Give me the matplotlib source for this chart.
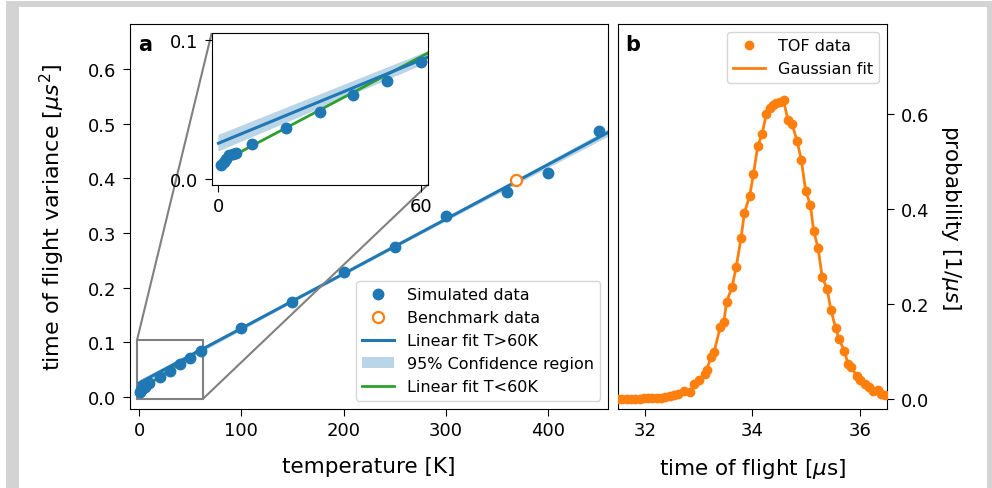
import numpy as np
import matplotlib
matplotlib.use("Agg")
import matplotlib.pyplot as plt
from matplotlib.patches import Rectangle
from mpl_toolkits.axes_grid1.inset_locator import mark_inset

# ---------------- data: panel a ----------------
sim_T = [0.7, 1.5, 2.3, 3.2, 4.2, 5.2, 10, 20, 30, 40, 50, 60,
         100, 150, 200, 250, 300, 360, 400, 450]
sim_v = [0.0100, 0.0124, 0.0148, 0.0171, 0.0183, 0.0185, 0.0250, 0.0367,
         0.0481, 0.0605, 0.0707, 0.0843,
         0.1267, 0.1730, 0.2290, 0.2750, 0.3310, 0.3750, 0.4090, 0.4860]
sim_err = [0.001, 0.001, 0.001, 0.001, 0.001, 0.001, 0.001, 0.001,
           0.001, 0.001, 0.001, 0.001,
           0.002, 0.002, 0.002, 0.002, 0.002, 0.003, 0.005, 0.009]
bench_T = [369]
bench_v = [0.397]

# linear fit T>60K (slope, intercept)
fit_hi_slope = 0.000998
fit_hi_icpt = 0.0258
fit_hi_T = [0, 462]
# 95% confidence half-width along the fit
conf_T = [0, 60, 150, 250, 350, 462]
conf_hw = [0.0060, 0.0042, 0.0025, 0.0025, 0.0042, 0.0070]
# linear fit T<60K
fit_lo_slope = 0.00128
fit_lo_icpt = 0.0112
fit_lo_T = [0, 62]

# ---------------- data: panel b ----------------
tof_t = [31.50, 31.58, 31.66, 31.74, 31.82, 31.90, 31.98, 32.06, 32.14, 32.22,
         32.30, 32.38, 32.46, 32.54, 32.62, 32.73, 32.83, 32.92, 33.01, 33.11,
         33.15, 33.23, 33.29, 33.40, 33.47, 33.52, 33.62, 33.70, 33.79, 33.85,
         33.95, 34.02, 34.10, 34.18, 34.26, 34.33, 34.38, 34.44, 34.51, 34.58,
         34.66, 34.74, 34.83, 34.91, 34.99, 35.08, 35.14, 35.22, 35.30, 35.39,
         35.46, 35.55, 35.61, 35.71, 35.78, 35.84, 35.94, 36.00, 36.09, 36.17,
         36.25, 36.34, 36.40, 36.46]
tof_p = [0.001, 0.001, 0.001, 0.001, 0.001, 0.001, 0.002, 0.002, 0.002, 0.003,
         0.003, 0.004, 0.006, 0.008, 0.010, 0.016, 0.014, 0.032, 0.039, 0.053,
         0.062, 0.088, 0.100, 0.151, 0.163, 0.205, 0.235, 0.279, 0.340, 0.392,
         0.428, 0.474, 0.533, 0.558, 0.601, 0.612, 0.619, 0.623, 0.626, 0.629,
         0.588, 0.579, 0.544, 0.504, 0.439, 0.408, 0.354, 0.319, 0.256, 0.232,
         0.188, 0.149, 0.126, 0.102, 0.074, 0.067, 0.049, 0.039, 0.032, 0.025,
         0.017, 0.020, 0.011, 0.009]

BLUE = "#1f77b4"
ORANGE = "#ff7f0e"
GREEN = "#2ca02c"

plt.rcParams["font.family"] = "DejaVu Sans"
plt.rcParams["xtick.major.size"] = 5
plt.rcParams["ytick.major.size"] = 5
plt.rcParams["xtick.major.pad"] = 4
plt.rcParams["ytick.major.pad"] = 5
W, H = 992, 489
fig = plt.figure(figsize=(W / 100, H / 100), dpi=100)

# grey frame
def px_rect(x0, y0, x1, y1):
    fig.patches.append(Rectangle((x0 / W, 1 - y1 / H), (x1 - x0) / W, (y1 - y0) / H,
                                 transform=fig.transFigure, facecolor="#d3d3d3",
                                 edgecolor="none", zorder=-10))
px_rect(6, 2, 19, 489)
px_rect(6, 2, 992, 8)
px_rect(987, 2, 992, 489)

def ax_rect(l, t, r, b):
    return [l / W, 1 - b / H, (r - l) / W, (b - t) / H]

FS = 13
LFS = 15.5
LEGFS = 11.5

# ---------------- panel a ----------------
ax = fig.add_axes(ax_rect(130, 25, 608.3, 409.5))
Tl = np.array(fit_hi_T, dtype=float)
ax.fill_between(conf_T,
                [fit_hi_icpt + fit_hi_slope * t - h for t, h in zip(conf_T, conf_hw)],
                [fit_hi_icpt + fit_hi_slope * t + h for t, h in zip(conf_T, conf_hw)],
                color=BLUE, alpha=0.3, lw=0, label="95% Confidence region", zorder=1)
ax.plot(Tl, fit_hi_icpt + fit_hi_slope * Tl, color=BLUE, lw=2.2,
        label="Linear fit T>60K", zorder=2)
Tg = np.array(fit_lo_T, dtype=float)
ax.plot(Tg, fit_lo_icpt + fit_lo_slope * Tg, color=GREEN, lw=2.0,
        label="Linear fit T<60K", zorder=1.5)
ax.errorbar(sim_T, sim_v, yerr=sim_err, fmt="none", ecolor=BLUE,
            elinewidth=1.5, capsize=0, zorder=3)
ax.plot(sim_T, sim_v, "o", color=BLUE, ms=7.5, label="Simulated data", zorder=3)
ax.plot(bench_T, bench_v, "o", mfc="white", mec=ORANGE, mew=1.6, ms=8,
        label="Benchmark data", zorder=4)
ax.set_xlim(-9, 459)
ax.set_ylim(-0.021, 0.682)
ax.set_xticks([0, 100, 200, 300, 400])
ax.set_yticks([0.0, 0.1, 0.2, 0.3, 0.4, 0.5, 0.6])
ax.tick_params(labelsize=FS)
ax.set_xlabel("temperature [K]", fontsize=LFS, labelpad=12)
ax.set_ylabel(r"time of flight variance [$\mu s^2$]", fontsize=16, labelpad=15)
ax.text(0.017, 0.975, "a", transform=ax.transAxes, fontsize=15, fontweight="bold",
        va="top", ha="left")
h, l = ax.get_legend_handles_labels()
order = [l.index(n) for n in ["Simulated data", "Benchmark data", "Linear fit T>60K",
                              "95% Confidence region", "Linear fit T<60K"]]
ax.legend([h[i] for i in order], [l[i] for i in order], loc="lower right",
          fontsize=LEGFS, framealpha=0.8)

# inset
axins = fig.add_axes(ax_rect(211.7, 34, 427.7, 185.7))
axins.fill_between(conf_T,
                   [fit_hi_icpt + fit_hi_slope * t - h for t, h in zip(conf_T, conf_hw)],
                   [fit_hi_icpt + fit_hi_slope * t + h for t, h in zip(conf_T, conf_hw)],
                   color=BLUE, alpha=0.3, lw=0, zorder=1)
axins.plot(Tl, fit_hi_icpt + fit_hi_slope * Tl, color=BLUE, lw=2.2, zorder=2)
axins.plot(Tg, fit_lo_icpt + fit_lo_slope * Tg, color=GREEN, lw=2.0, zorder=1.5)
axins.errorbar(sim_T, sim_v, yerr=sim_err, fmt="none", ecolor=BLUE,
               elinewidth=1.5, capsize=0, zorder=3)
axins.plot(sim_T, sim_v, "o", color=BLUE, ms=7.5, zorder=3)
axins.set_xlim(-2, 62)
axins.set_ylim(-0.004, 0.105)
axins.set_xticks([0, 60])
axins.set_yticks([0.0, 0.1])
axins.tick_params(labelsize=FS)
mark_inset(ax, axins, loc1=2, loc2=4, fc="none", ec="0.5", lw=1.5)

# ---------------- panel b ----------------
bx = fig.add_axes(ax_rect(617.5, 25, 887.3, 409.5))
bx.plot(tof_t, tof_p, "-", color=ORANGE, lw=2, label="Gaussian fit", zorder=2)
bx.plot(tof_t, tof_p, "o", color=ORANGE, ms=6, label="TOF data", zorder=3)
bx.set_xlim(31.49, 36.51)
bx.set_ylim(-0.02, 0.79)
bx.set_xticks([32, 34, 36])
bx.set_yticks([0.0, 0.2, 0.4, 0.6])
bx.yaxis.tick_right()
bx.yaxis.set_label_position("right")
bx.tick_params(labelsize=FS)
bx.set_xlabel(r"time of flight [$\mu$s]", fontsize=LFS, labelpad=12)
bx.set_ylabel(r"probability [1/$\mu s$]", fontsize=LFS, rotation=270, labelpad=24)
bx.text(0.03, 0.975, "b", transform=bx.transAxes, fontsize=15, fontweight="bold",
        va="top", ha="left")
hb, lb = bx.get_legend_handles_labels()
bx.legend([hb[1], hb[0]], [lb[1], lb[0]], loc="upper right", fontsize=LEGFS)

fig.savefig("out.png", dpi=100)
